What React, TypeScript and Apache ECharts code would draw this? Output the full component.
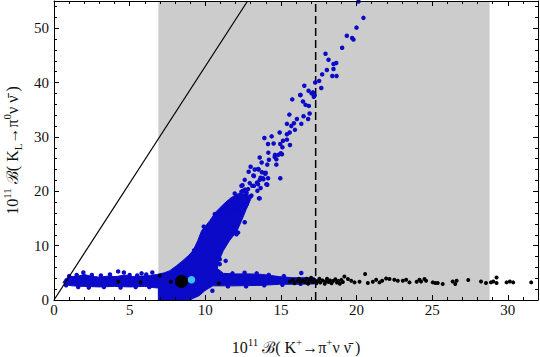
import React, { useEffect, useRef } from 'react';
import * as echarts from 'echarts';

const X_MIN = 0;
const X_MAX = 32;
const Y_MIN = 0;
const Y_MAX = 55;
const xLabelValues = [0, 5, 10, 15, 20, 25, 30];
const yLabelValues = [0, 10, 20, 30, 40, 50];

const grayBand = [[6.9, 28.8]];
const dashedLine = [[17.3, 0], [17.3, 55]];
const boundLine = [[0, 0], [12.8, 55]];

// outline of the dense blue cloud
const blueRegion = [
  [0.6, 3.2], [0.75, 3.9], [1.1, 4.3], [1.6, 4.4], [2.0, 4.7], [2.4, 4.4], [3.0, 4.2], [3.6, 4.4],
  [4.1, 4.3], [4.7, 4.6], [5.2, 4.3], [5.8, 4.4], [6.3, 4.5], [6.8, 4.7], [7.3, 5.0], [7.66, 5.4],
  [8.1, 6.3], [8.5, 7.2], [8.9, 8.2], [9.2, 9.1], [9.5, 10.9], [9.75, 12.7], [10.3, 14.6], [10.7, 16.2],
  [11.2, 17.6], [11.7, 18.8], [12.2, 19.6], [12.8, 19.4], [13.0, 18.5], [12.7, 16.6], [12.4, 14.6],
  [12.1, 12.7], [11.6, 10.9], [11.2, 9.1], [10.9, 7.2], [10.8, 5.8], [11.2, 4.9], [12.0, 4.8],
  [13.0, 4.8], [13.8, 4.7], [14.9, 4.3], [15.8, 4.1], [17.2, 4.1], [17.4, 3.6],
  [17.2, 2.95], [15.8, 2.9], [14.9, 2.9], [13.8, 2.7], [12.0, 2.6], [10.5, 2.6], [10.2, 2.1],
  [9.97, 1.7], [9.6, 0.8], [9.2, 0.3], [9.0, 0], [6.9, 0], [6.9, 2.2], [6.5, 2.3], [6.0, 2.5],
  [5.0, 2.4], [4.0, 2.5], [3.0, 2.4], [2.0, 2.5], [1.2, 2.6], [0.8, 2.8]
];

const bluePoints = [
  [20.13, 54.9], [20.46, 51.9], [20.0, 50.1], [19.36, 48.6], [19.71, 48.2], [19.8, 47.9], [19.05, 46.4],
  [17.95, 45.3], [18.15, 44.2], [18.66, 43.6], [18.48, 43.4], [18.48, 42.5], [18.04, 42.3], [17.73, 41.5],
  [18.4, 41.2], [18.68, 41.2], [17.53, 40.3], [17.27, 40.0], [17.67, 39.0], [16.55, 39.4], [16.83, 38.5],
  [16.28, 37.7], [17.03, 38.0], [17.18, 37.4], [15.75, 36.9],
  [17.12, 38.2], [16.3, 37.7], [17.23, 37.6], [16.46, 36.5], [16.63, 35.9], [16.85, 35.7], [15.56, 34.1],
  [16.5, 33.8], [16.9, 34.3], [16.06, 33.3], [16.8, 33.3], [16.35, 32.4], [15.86, 32.5], [15.4, 32.4],
  [15.69, 32.0], [15.93, 31.3], [14.92, 30.8], [15.58, 30.8], [15.4, 30.5], [14.39, 30.1], [13.91, 29.8],
  [15.4, 29.5], [15.14, 29.3], [14.15, 28.7], [14.52, 28.8], [14.96, 28.7], [15.6, 28.5], [15.1, 28.1],
  [14.17, 27.1], [15.0, 27.0], [14.61, 26.7], [14.83, 26.7], [13.6, 26.2], [14.21, 25.8], [14.7, 25.9],
  [13.73, 25.3], [14.1, 24.9], [14.7, 24.9], [13.0, 24.5], [12.87, 23.6], [13.27, 24.0], [13.53, 24.0],
  [13.99, 23.4], [13.18, 22.9], [12.61, 22.1], [14.96, 22.4], [13.82, 22.4], [14.15, 22.4], [13.6, 22.1],
  [13.42, 21.6], [12.94, 21.5], [14.1, 21.2], [13.22, 21.0], [12.46, 21.1], [13.66, 20.6], [12.63, 20.3],
  [13.45, 20.1], [11.95, 19.6], [12.39, 19.9], [12.72, 19.5], [12.98, 19.0], [13.6, 18.7], [12.5, 18.3],
  [12.0, 18.1], [11.4, 17.4],
  [14.59, 26.3], [15.07, 26.8], [13.49, 24.1], [13.22, 22.8], [13.75, 23.5], [13.97, 23.2], [13.66, 22.5],
  [13.84, 22.2], [14.04, 21.3], [13.49, 21.3], [13.11, 21.0], [12.39, 21.0], [12.5, 20.1], [12.72, 19.8],
  [12.83, 20.4], [12.56, 19.2], [13.05, 19.2], [13.55, 18.7], [12.39, 18.3], [12.72, 17.6], [12.17, 17.6],
  [11.84, 17.0], [12.06, 16.4], [12.39, 16.7], [11.29, 16.1], [10.85, 15.5], [12.61, 14.3], [12.17, 12.4],
  [12.06, 13.7], [10.08, 13.3], [10.3, 12.7],
  [11.35, 17.3], [10.9, 15.3], [10.19, 13.3], [9.9, 13.5], [10.4, 12.4], [9.26, 9.1], [12.06, 12.1],
  [11.73, 13.7], [12.17, 14.9], [10.96, 6.6], [10.96, 7.5], [11.35, 7.2], [10.47, 1.7], [5.79, 4.9],
  [6.5, 5.07], [1.94, 5.07], [4.24, 5.26], [4.62, 5.07], [16.35, 4.96], [10.63, 15.8], [11.84, 16.4],
  [12.72, 17.6], [12.28, 18.3], [11.5, 17.9],
  [1.0, 4.4], [1.5, 4.6], [2.5, 4.6], [3.1, 4.5], [3.7, 4.7], [5.0, 4.6], [5.5, 4.5], [6.1, 4.7], [8.0, 5.0],
  [0.8, 2.7], [1.6, 2.4], [2.3, 2.3], [3.3, 2.4], [4.4, 2.3], [5.4, 2.4], [6.3, 2.4],
  [11.8, 4.9], [12.6, 5.0], [13.4, 4.9], [14.2, 4.6], [15.2, 4.4], [11.5, 2.5], [12.7, 2.5], [13.9, 2.7],
  [15.1, 2.8], [16.3, 3.0]
];

const blackPoints = [
  [4.25, 3.36], [5.72, 3.24], [7.0, 4.47], [7.72, 3.36], [10.9, 3.05],
  [15.6, 3.4], [15.8, 3.7], [15.9, 3.1], [16.1, 3.5], [16.2, 3.9], [16.3, 3.2], [16.45, 3.6], [16.6, 3.3],
  [16.7, 3.9], [16.8, 3.0], [16.9, 3.6], [17.0, 4.1], [17.1, 3.3], [17.2, 3.7], [17.35, 3.1], [17.45, 3.5],
  [17.55, 3.9], [17.6, 3.2], [17.75, 3.6], [17.9, 3.0], [17.95, 3.4], [18.05, 3.9], [18.15, 3.3],
  [18.25, 3.6], [18.35, 3.1], [18.45, 3.5], [18.6, 3.8], [18.7, 3.2], [18.8, 3.5], [18.9, 3.0], [19.0, 3.7],
  [19.1, 3.3], [19.2, 4.34], [19.43, 3.86], [19.65, 3.55], [19.87, 3.24], [20.2, 3.36], [20.57, 4.78],
  [20.75, 3.12], [21.08, 3.36], [21.3, 3.73], [21.52, 3.24], [21.7, 3.55], [21.96, 3.97], [22.18, 3.86],
  [22.5, 3.73], [22.73, 3.55], [23.06, 3.55], [23.28, 3.73], [23.5, 3.24], [23.98, 3.36], [24.16, 3.73],
  [24.27, 3.42], [24.49, 3.86], [24.6, 3.55], [25.04, 3.24], [25.21, 3.12], [25.37, 3.12], [25.7, 2.94],
  [26.36, 3.42], [26.53, 2.94], [26.62, 3.55], [27.39, 3.68], [28.23, 3.42], [28.56, 3.12], [28.89, 3.24],
  [29.04, 3.42], [29.26, 4.15], [29.26, 3.12], [29.92, 3.24], [30.14, 3.42], [30.36, 3.24], [31.55, 3.24]
];

const bigBlackPoint = [[8.43, 3.42]];
const cyanPoint = [[9.09, 3.73]];

const BLUE = '#0a0ac8';
const FONT = "'Liberation Serif', 'DejaVu Serif', 'Times New Roman', serif";
const TEXT = '#111';

const richStyles = {
  n: { fontSize: 16, fontFamily: FONT, color: TEXT, lineHeight: 22, verticalAlign: 'middle' },
  s: { fontSize: 11, fontFamily: FONT, color: TEXT, lineHeight: 11, verticalAlign: 'top' },
  b: { fontSize: 11, fontFamily: FONT, color: TEXT, lineHeight: 11, verticalAlign: 'bottom' }
};

function makeAxes(dim: 'x' | 'y') {
  const isX = dim === 'x';
  const min = isX ? X_MIN : Y_MIN;
  const max = isX ? X_MAX : Y_MAX;
  const minorInt = isX ? 1 : 2;
  const majorInt = isX ? 5 : 10;
  const labels = isX ? xLabelValues : yLabelValues;
  const positions = isX ? ['bottom', 'top'] : ['left', 'right'];
  const axes: any[] = [];
  positions.forEach((pos, pi) => {
    axes.push({
      type: 'value', position: pos, min, max, interval: minorInt, z: 10,
      axisLine: { show: true, onZero: false, lineStyle: { color: '#000', width: 1 } },
      axisTick: { show: true, inside: true, length: 3, lineStyle: { color: '#000', width: 1 } },
      axisLabel: pi === 0 ? {
        show: true, fontFamily: FONT, fontSize: 15, color: TEXT, margin: isX ? 2 : 5,
        formatter: (v: number) => (labels.indexOf(v) >= 0 ? String(v) : '')
      } : { show: false },
      splitLine: { show: false },
      ...(pi === 0 ? (isX ? {
        name: '{n|10}{s|11}{n| ℬ( K}{s|+}{n|→π}{s|+}{n|ν ν\u0304 )}',
        nameLocation: 'middle', nameGap: 36,
        nameTextStyle: { fontFamily: FONT, fontSize: 16, color: TEXT, rich: richStyles }
      } : {
        name: '{n|10}{s|11}{n| ℬ( K}{b|L}{n|→π}{s|0}{n|ν ν\u0304 )}',
        nameLocation: 'middle', nameGap: 26,
        nameTextStyle: { fontFamily: FONT, fontSize: 16, color: TEXT, rich: richStyles }
      }) : {})
    });
    axes.push({
      type: 'value', position: pos, min, max, interval: majorInt, z: 10,
      axisLine: { show: false, onZero: false },
      axisTick: { show: true, inside: true, length: 5, lineStyle: { color: '#000', width: 1 } },
      axisLabel: { show: false },
      splitLine: { show: false }
    });
  });
  return axes;
}

export default function App() {
  const ref = useRef<HTMLDivElement>(null);
  useEffect(() => {
    if (!ref.current) return;
    const chart = echarts.init(ref.current, undefined, { renderer: 'svg' });
    chart.setOption({
      animation: false,
      backgroundColor: '#fff',
      grid: { left: 54, right: 2, top: 1, bottom: 57, containLabel: false, outerBoundsMode: 'none' },
      xAxis: makeAxes('x'),
      yAxis: makeAxes('y'),
      series: [
        {
          type: 'custom', z: 1, silent: true, data: grayBand,
          renderItem: (params: any, api: any) => {
            const p0 = api.coord([api.value(0), Y_MAX]);
            const p1 = api.coord([api.value(1), Y_MIN]);
            return { type: 'rect', shape: { x: p0[0], y: p0[1], width: p1[0] - p0[0], height: p1[1] - p0[1] }, style: { fill: '#cccccc' } };
          },
          encode: { x: [0, 1] }
        },
        {
          type: 'line', z: 2, data: dashedLine, showSymbol: false, silent: true,
          lineStyle: { color: '#000', width: 1.5, type: [8, 4] }
        },
        {
          type: 'custom', z: 3, silent: true, data: blueRegion, clip: true,
          renderItem: (params: any, api: any) => {
            if (params.dataIndex !== 0) return null;
            const pts = blueRegion.map((p) => api.coord(p));
            return { type: 'polygon', shape: { points: pts }, style: { fill: BLUE, stroke: BLUE, lineWidth: 1 } };
          },
          encode: { x: 0, y: 1 }
        },
        {
          type: 'scatter', z: 3, data: bluePoints, symbolSize: 4.5, silent: true,
          itemStyle: { color: BLUE, opacity: 1 }
        },
        {
          type: 'scatter', z: 4, data: blackPoints, symbolSize: 4, silent: true,
          itemStyle: { color: '#000', opacity: 1 }
        },
        {
          type: 'line', z: 5, data: boundLine, showSymbol: false, silent: true,
          lineStyle: { color: '#000', width: 1.2 }
        },
        {
          type: 'scatter', z: 6, data: bigBlackPoint, symbolSize: 13, silent: true,
          itemStyle: { color: '#000', opacity: 1 }
        },
        {
          type: 'scatter', z: 6, data: cyanPoint, symbolSize: 7.5, silent: true,
          itemStyle: { color: '#40c0f0', opacity: 1 }
        }
      ]
    });
    return () => chart.dispose();
  }, []);
  return <div ref={ref} style={{ position: 'fixed', left: 0, top: 0, width: 540, height: 357 }} />;
}
